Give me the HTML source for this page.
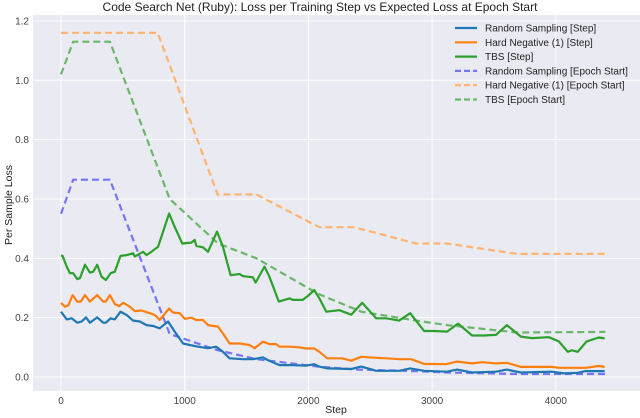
<!DOCTYPE html>
<html><head><meta charset="utf-8"><style>
body{margin:0;background:#fff;}
svg{display:block;font-family:"Liberation Sans",sans-serif;}
</style></head><body>
<svg id="chart" width="640" height="418">
<rect x="33" y="15" width="607" height="376" fill="#eaeaf2"/>
<g id="grid"></g>
<g id="series"></g>
<g id="axes"></g>
<text x="320" y="11" text-anchor="middle" font-size="12" fill="#222">Code Search Net (Ruby): Loss per Training Step vs Expected Loss at Epoch Start</text>
<text x="336" y="413" text-anchor="middle" font-size="10.5" fill="#222">Step</text>
<text transform="translate(12,205) rotate(-90)" text-anchor="middle" font-size="10.5" fill="#222">Per Sample Loss</text>
<g id="legend"></g>
</svg>
<script>
const xTicks=[0,1000,2000,3000,4000];
const yTicks=[0.0,0.2,0.4,0.6,0.8,1.0,1.2];
const yTickLabels=["0.0","0.2","0.4","0.6","0.8","1.0","1.2"];
const randomStepX=[0,46,86,132,167,202,234,293,341,363,401,435,481,530,583,637,691,745,798,866,919,987,1040,1108,1188,1255,1309,1363,1470,1551,1632,1672,1766,1874,1981,2048,2089,2153,2347,2427,2548,2734,2823,2935,3121,3202,3323,3516,3605,3718,3968,4064,4177,4242,4395];
const randomStepY=[.22,.194,.198,.183,.187,.201,.183,.201,.183,.183,.198,.194,.22,.209,.19,.187,.175,.172,.164,.187,.153,.113,.108,.102,.097,.102,.085,.063,.06,.06,.066,.057,.04,.04,.038,.043,.035,.029,.027,.035,.021,.021,.029,.021,.018,.025,.015,.018,.025,.015,.018,.012,.014,.02,.02];
const hardStepX=[0,32,60,94,132,160,194,234,293,341,363,395,435,470,503,556,597,651,718,758,798,874,906,960,1000,1054,1094,1148,1188,1269,1309,1363,1444,1524,1565,1632,1685,1739,1766,1847,1927,1981,2048,2089,2153,2274,2347,2427,2532,2629,2734,2831,2935,3113,3202,3323,3403,3516,3605,3718,3968,4024,4242,4347,4395];
const hardStepY=[.25,.237,.242,.276,.254,.254,.276,.254,.276,.254,.254,.276,.246,.239,.25,.237,.222,.224,.215,.209,.192,.231,.217,.215,.196,.2,.192,.192,.175,.17,.147,.113,.113,.108,.097,.119,.111,.111,.102,.102,.1,.096,.096,.085,.063,.063,.055,.068,.065,.063,.06,.06,.044,.043,.052,.046,.05,.046,.048,.034,.034,.031,.031,.037,.034];
const tbsStepX=[0,13,46,73,99,132,153,194,234,261,293,328,363,401,435,481,530,583,597,664,691,731,785,874,919,981,1054,1081,1094,1148,1188,1261,1309,1371,1444,1470,1551,1573,1645,1685,1761,1847,1874,1954,1995,2048,2089,2145,2250,2347,2435,2548,2629,2734,2823,2935,3016,3121,3210,3323,3419,3516,3605,3718,3806,3944,4024,4097,4129,4177,4250,4347,4395];
const tbsStepY=[.41,.408,.372,.35,.35,.33,.333,.378,.352,.355,.378,.338,.327,.35,.355,.408,.411,.417,.406,.422,.411,.422,.439,.551,.506,.45,.453,.462,.442,.437,.422,.49,.439,.343,.347,.34,.336,.318,.372,.338,.254,.265,.26,.26,.273,.293,.265,.22,.225,.21,.25,.198,.198,.19,.215,.155,.155,.153,.18,.14,.14,.142,.175,.136,.131,.134,.12,.085,.09,.085,.12,.133,.13];
const randomEpochX=[0,99,395,879,1270,1580,2080,2400,2870,3120,3690,4400];
const randomEpochY=[.55,.665,.665,.145,.09,.06,.035,.025,.02,.015,.01,.01];
const hardEpochX=[0,782,1266,1580,2089,2371,2871,3121,3686,4403];
const hardEpochY=[1.16,1.16,.615,.615,.505,.505,.45,.45,.415,.415];
const tbsEpochX=[0,99,395,879,1270,1580,2080,2427,2870,3120,3690,4400];
const tbsEpochY=[1.02,1.13,1.13,.6,.45,.4,.28,.22,.19,.175,.15,.152];
const legendLabels=["Random Sampling [Step]","Hard Negative (1) [Step]","TBS [Step]","Random Sampling [Epoch Start]","Hard Negative (1) [Epoch Start]","TBS [Epoch Start]"];

const NS="http://www.w3.org/2000/svg";
function xs(v){return 61+v*0.1237;}
function ys(v){return 377-v*296.7;}
function mk(tag,attrs,parent){const e=document.createElementNS(NS,tag);for(const k in attrs)e.setAttribute(k,attrs[k]);parent.appendChild(e);return e;}
const grid=document.getElementById('grid'),axes=document.getElementById('axes');
xTicks.forEach((t,i)=>{
 const l=mk('line',{x1:xs(t),x2:xs(t),y1:15,y2:391,stroke:'#fff','stroke-width':1},grid);
 
 
 const tx=mk('text',{x:xs(t),y:404,'text-anchor':'middle','font-size':10,fill:'#444'},axes);
 tx.textContent=String(t);
 
 
});
yTicks.forEach((t,i)=>{
 const l=mk('line',{x1:33,x2:640,y1:ys(t),y2:ys(t),stroke:'#fff','stroke-width':1},grid);
 
 
 const tx=mk('text',{x:29,y:ys(t)+3.5,'text-anchor':'end','font-size':10,fill:'#444'},axes);
 tx.textContent=yTickLabels[i];
 
 
});
const styles=[
 {c:'#1f77b4',w:2.2,d:null,o:1,n:'random-step-line'},
 {c:'#ff7f0e',w:2.2,d:null,o:1,n:'hard-negative-step-line'},
 {c:'#2ca02c',w:2.2,d:null,o:1,n:'tbs-step-line'},
 {c:'#6060f8',w:2.2,d:'7,4',o:0.85,n:'random-epoch-line'},
 {c:'#ffb36e',w:2.2,d:'7,4',o:1,n:'hard-negative-epoch-line'},
 {c:'#5cb05c',w:2.2,d:'7,4',o:0.9,n:'tbs-epoch-line'}];
const data=[[randomStepX,randomStepY],[hardStepX,hardStepY],[tbsStepX,tbsStepY],[randomEpochX,randomEpochY],[hardEpochX,hardEpochY],[tbsEpochX,tbsEpochY]];
const order=[4,5,3,1,2,0];
const sg=document.getElementById('series');
order.forEach(i=>{
 const [X,Y]=data[i],s=styles[i];
 const pts=X.map((x,j)=>xs(x).toFixed(1)+','+ys(Y[j]).toFixed(1)).join(' ');
 const a={points:pts,fill:'none',stroke:s.c,'stroke-width':s.w,'stroke-opacity':s.o,'stroke-linejoin':'round'};
 if(s.d)a['stroke-dasharray']=s.d;
 const p=mk('polyline',a,sg);
 
 
});
const lg=document.getElementById('legend');
legendLabels.forEach((lab,i)=>{
 const y=28+i*14.3,s=styles[i];
 const a={x1:455,x2:477,y1:y,y2:y,stroke:s.c,'stroke-width':2.2,'stroke-opacity':s.o};
 if(s.d)a['stroke-dasharray']='6,3';
 const l=mk('line',a,lg);
 
 
 const t=mk('text',{x:485,y:y+3.5,'font-size':10,fill:'#222'},lg);
 t.textContent=lab;
 
 
});
</script>
</body></html>
